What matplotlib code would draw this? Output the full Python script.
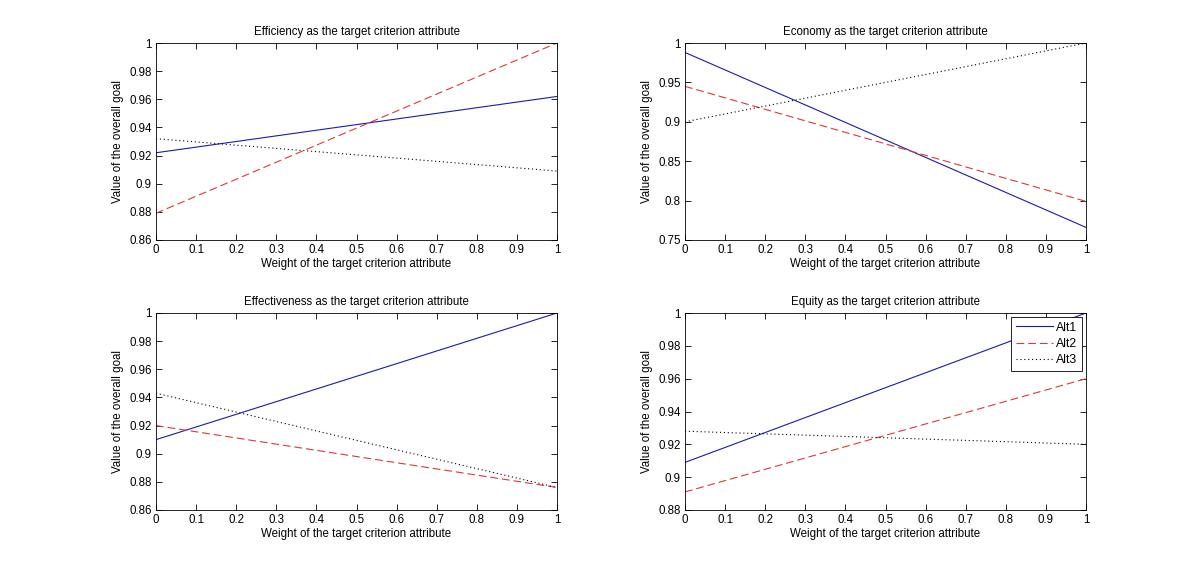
import matplotlib
matplotlib.use("Agg")
import matplotlib.pyplot as plt

plt.rcParams['font.family'] = ['Liberation Sans', 'DejaVu Sans']

weights = [0.0, 1.0]
series_names = ["Alt1", "Alt2", "Alt3"]

titles = [
    "Efficiency as the target criterion attribute",
    "Economy as the target criterion attribute",
    "Effectiveness as the target criterion attribute",
    "Equity as the target criterion attribute",
]

efficiency_alt1 = [0.922, 0.962]
efficiency_alt2 = [0.879, 1.000]
efficiency_alt3 = [0.932, 0.909]

economy_alt1 = [0.988, 0.766]
economy_alt2 = [0.945, 0.799]
economy_alt3 = [0.900, 1.000]

effectiveness_alt1 = [0.910, 1.000]
effectiveness_alt2 = [0.920, 0.876]
effectiveness_alt3 = [0.943, 0.876]

equity_alt1 = [0.909, 1.000]
equity_alt2 = [0.891, 0.960]
equity_alt3 = [0.928, 0.920]

panels = [
    (efficiency_alt1, efficiency_alt2, efficiency_alt3),
    (economy_alt1, economy_alt2, economy_alt3),
    (effectiveness_alt1, effectiveness_alt2, effectiveness_alt3),
    (equity_alt1, equity_alt2, equity_alt3),
]

ylims = [(0.86, 1.0), (0.75, 1.0), (0.86, 1.0), (0.88, 1.0)]
yticks = [
    [0.86, 0.88, 0.90, 0.92, 0.94, 0.96, 0.98, 1.0],
    [0.75, 0.80, 0.85, 0.90, 0.95, 1.0],
    [0.86, 0.88, 0.90, 0.92, 0.94, 0.96, 0.98, 1.0],
    [0.88, 0.90, 0.92, 0.94, 0.96, 0.98, 1.0],
]
xticks = [0, 0.1, 0.2, 0.3, 0.4, 0.5, 0.6, 0.7, 0.8, 0.9, 1]

W, H = 1200, 572
fig = plt.figure(figsize=(W / 100, H / 100), dpi=100)

boxes = [
    (156, 43, 557, 240),
    (685, 43, 1086, 240),
    (156, 313, 557, 510),
    (685, 313, 1086, 510),
]

styles = [
    dict(color='#1c1ca8', linestyle='-', linewidth=0.8),
    dict(color='#d83a3a', linestyle=(0, (7, 3.5)), linewidth=0.8),
    dict(color='black', linestyle=(0, (1, 2.5)), linewidth=0.8),
]

def fmt(v):
    s = ('%.2f' % v).rstrip('0').rstrip('.')
    return s

fs = 8.3
for i, (x0, y0, x1, y1) in enumerate(boxes):
    ax = fig.add_axes([x0 / W, 1 - y1 / H, (x1 - x0) / W, (y1 - y0) / H])
    for vals, st, name in zip(panels[i], styles, series_names):
        ax.plot(weights, vals, label=name, **st)
    ax.set_xlim(0, 1)
    ax.set_ylim(*ylims[i])
    ax.set_xticks(xticks)
    ax.set_xticklabels([fmt(v) for v in xticks])
    ax.set_yticks(yticks[i])
    ax.set_yticklabels([fmt(v) for v in yticks[i]])
    ax.tick_params(direction='in', top=True, right=True, labelsize=fs,
                   length=4, width=0.6, pad=3)
    for sp in ax.spines.values():
        sp.set_linewidth(0.6)
    ax.set_title(titles[i], fontsize=fs, pad=6)
    ax.set_xlabel("Weight of the target criterion attribute", fontsize=fs, labelpad=1)
    ax.set_ylabel("Value of the overall goal", fontsize=fs, labelpad=4)
    if i == 3:
        leg = ax.legend(loc='upper right', fontsize=fs + 0.5, fancybox=False,
                        edgecolor='black', framealpha=1, borderaxespad=0.3,
                        handlelength=3.0, labelspacing=0.35, borderpad=0.4,
                        handletextpad=0.3)
        leg.get_frame().set_linewidth(0.6)

fig.savefig("out.png", dpi=100)
